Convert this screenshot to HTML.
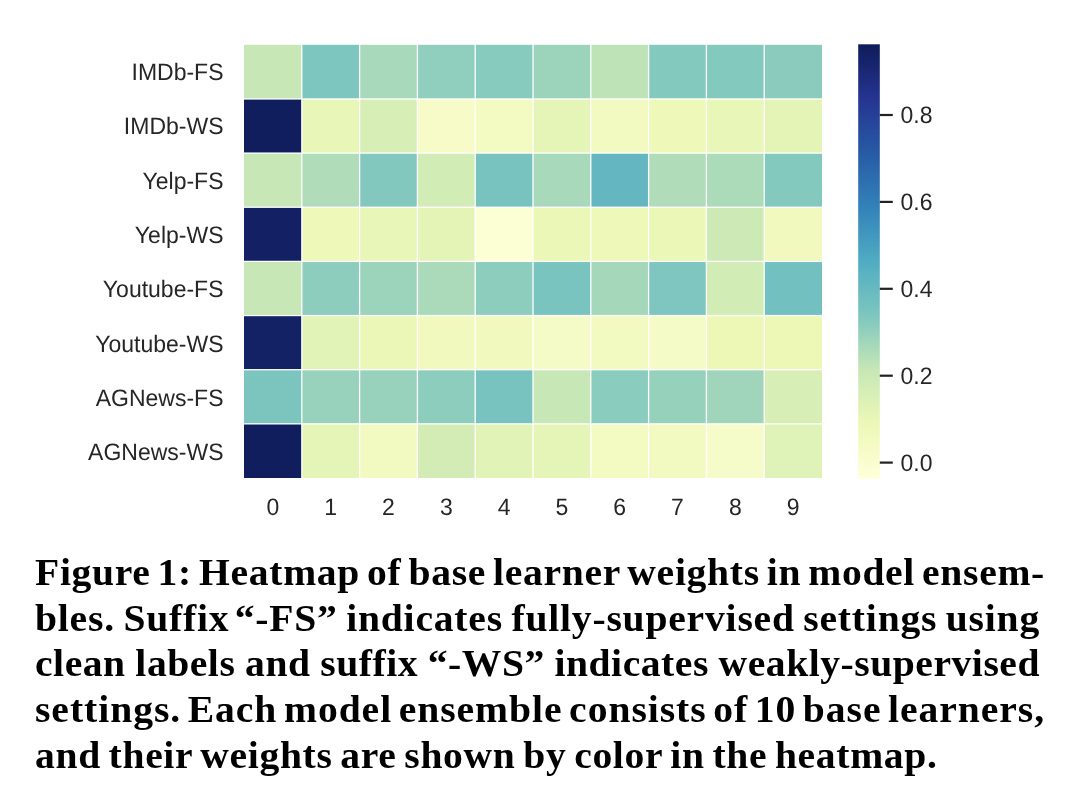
<!DOCTYPE html>
<html><head><meta charset="utf-8"><title>Heatmap figure</title><style>
html,body{margin:0;padding:0;background:#fff;}
body{width:1080px;height:812px;overflow:hidden;position:relative;}
svg{position:absolute;left:0;top:0;will-change:transform;}
.t{text-rendering:geometricPrecision;font-family:"Liberation Sans",sans-serif;font-size:23px;fill:#262626;}
.cl{will-change:transform;position:absolute;left:35px;font-family:"Liberation Serif",serif;font-weight:bold;font-size:37px;line-height:0;color:#000;white-space:nowrap;letter-spacing:1.35px;word-spacing:-4.8px;}

</style></head><body>
<svg width="1080" height="812" viewBox="0 0 1080 812">
<rect x="244.0" y="44.8" width="578.0" height="433.2" fill="#fff"/>
<rect x="244.00" y="44.80" width="57.15" height="53.50" fill="#c7e7b6"/>
<rect x="302.45" y="44.80" width="56.50" height="53.50" fill="#7dc5bf"/>
<rect x="360.25" y="44.80" width="56.50" height="53.50" fill="#a8d9ba"/>
<rect x="418.05" y="44.80" width="56.50" height="53.50" fill="#90cebd"/>
<rect x="475.85" y="44.80" width="56.50" height="53.50" fill="#87cabe"/>
<rect x="533.65" y="44.80" width="56.50" height="53.50" fill="#9bd3bb"/>
<rect x="591.45" y="44.80" width="56.50" height="53.50" fill="#bee3b7"/>
<rect x="649.25" y="44.80" width="56.50" height="53.50" fill="#84c9be"/>
<rect x="707.05" y="44.80" width="56.50" height="53.50" fill="#84c9be"/>
<rect x="764.85" y="44.80" width="57.15" height="53.50" fill="#8acbbe"/>
<rect x="244.00" y="99.60" width="57.15" height="52.85" fill="#111e5e"/>
<rect x="302.45" y="99.60" width="56.50" height="52.85" fill="#e8f6b7"/>
<rect x="360.25" y="99.60" width="56.50" height="52.85" fill="#d7eeb6"/>
<rect x="418.05" y="99.60" width="56.50" height="52.85" fill="#f6fbc7"/>
<rect x="475.85" y="99.60" width="56.50" height="52.85" fill="#f3fac2"/>
<rect x="533.65" y="99.60" width="56.50" height="52.85" fill="#e5f5b7"/>
<rect x="591.45" y="99.60" width="56.50" height="52.85" fill="#f2fac1"/>
<rect x="649.25" y="99.60" width="56.50" height="52.85" fill="#eef8b8"/>
<rect x="707.05" y="99.60" width="56.50" height="52.85" fill="#e8f6b7"/>
<rect x="764.85" y="99.60" width="57.15" height="52.85" fill="#e4f4b7"/>
<rect x="244.00" y="153.75" width="57.15" height="52.85" fill="#c7e7b6"/>
<rect x="302.45" y="153.75" width="56.50" height="52.85" fill="#b0dcb9"/>
<rect x="360.25" y="153.75" width="56.50" height="52.85" fill="#82c8be"/>
<rect x="418.05" y="153.75" width="56.50" height="52.85" fill="#d2ecb6"/>
<rect x="475.85" y="153.75" width="56.50" height="52.85" fill="#78c3bf"/>
<rect x="533.65" y="153.75" width="56.50" height="52.85" fill="#a8d9ba"/>
<rect x="591.45" y="153.75" width="56.50" height="52.85" fill="#64b7c1"/>
<rect x="649.25" y="153.75" width="56.50" height="52.85" fill="#b0dcb9"/>
<rect x="707.05" y="153.75" width="56.50" height="52.85" fill="#acdbb9"/>
<rect x="764.85" y="153.75" width="57.15" height="52.85" fill="#84c9be"/>
<rect x="244.00" y="207.90" width="57.15" height="52.85" fill="#132063"/>
<rect x="302.45" y="207.90" width="56.50" height="52.85" fill="#eef8b8"/>
<rect x="360.25" y="207.90" width="56.50" height="52.85" fill="#e8f6b7"/>
<rect x="418.05" y="207.90" width="56.50" height="52.85" fill="#e4f4b7"/>
<rect x="475.85" y="207.90" width="56.50" height="52.85" fill="#fcfed4"/>
<rect x="533.65" y="207.90" width="56.50" height="52.85" fill="#ebf7b7"/>
<rect x="591.45" y="207.90" width="56.50" height="52.85" fill="#eef8b8"/>
<rect x="649.25" y="207.90" width="56.50" height="52.85" fill="#ebf7b7"/>
<rect x="707.05" y="207.90" width="56.50" height="52.85" fill="#cdeab6"/>
<rect x="764.85" y="207.90" width="57.15" height="52.85" fill="#f1f9be"/>
<rect x="244.00" y="262.05" width="57.15" height="52.85" fill="#c7e7b6"/>
<rect x="302.45" y="262.05" width="56.50" height="52.85" fill="#8dcdbd"/>
<rect x="360.25" y="262.05" width="56.50" height="52.85" fill="#9bd3bb"/>
<rect x="418.05" y="262.05" width="56.50" height="52.85" fill="#aadaba"/>
<rect x="475.85" y="262.05" width="56.50" height="52.85" fill="#8dcdbd"/>
<rect x="533.65" y="262.05" width="56.50" height="52.85" fill="#7ac4bf"/>
<rect x="591.45" y="262.05" width="56.50" height="52.85" fill="#a5d8ba"/>
<rect x="649.25" y="262.05" width="56.50" height="52.85" fill="#7ec6bf"/>
<rect x="707.05" y="262.05" width="56.50" height="52.85" fill="#d2ecb6"/>
<rect x="764.85" y="262.05" width="57.15" height="52.85" fill="#73c0c0"/>
<rect x="244.00" y="316.20" width="57.15" height="52.85" fill="#132165"/>
<rect x="302.45" y="316.20" width="56.50" height="52.85" fill="#e1f3b7"/>
<rect x="360.25" y="316.20" width="56.50" height="52.85" fill="#ebf7b7"/>
<rect x="418.05" y="316.20" width="56.50" height="52.85" fill="#f1f9be"/>
<rect x="475.85" y="316.20" width="56.50" height="52.85" fill="#f1f9be"/>
<rect x="533.65" y="316.20" width="56.50" height="52.85" fill="#f5fbc6"/>
<rect x="591.45" y="316.20" width="56.50" height="52.85" fill="#f2fac1"/>
<rect x="649.25" y="316.20" width="56.50" height="52.85" fill="#f5fbc6"/>
<rect x="707.05" y="316.20" width="56.50" height="52.85" fill="#edf8b7"/>
<rect x="764.85" y="316.20" width="57.15" height="52.85" fill="#edf8b7"/>
<rect x="244.00" y="370.35" width="57.15" height="52.85" fill="#7cc5bf"/>
<rect x="302.45" y="370.35" width="56.50" height="52.85" fill="#98d2bc"/>
<rect x="360.25" y="370.35" width="56.50" height="52.85" fill="#98d2bc"/>
<rect x="418.05" y="370.35" width="56.50" height="52.85" fill="#8dcdbd"/>
<rect x="475.85" y="370.35" width="56.50" height="52.85" fill="#78c3bf"/>
<rect x="533.65" y="370.35" width="56.50" height="52.85" fill="#c7e7b6"/>
<rect x="591.45" y="370.35" width="56.50" height="52.85" fill="#8accbd"/>
<rect x="649.25" y="370.35" width="56.50" height="52.85" fill="#96d1bc"/>
<rect x="707.05" y="370.35" width="56.50" height="52.85" fill="#a0d5bb"/>
<rect x="764.85" y="370.35" width="57.15" height="52.85" fill="#d7eeb6"/>
<rect x="244.00" y="424.50" width="57.15" height="53.50" fill="#111e5e"/>
<rect x="302.45" y="424.50" width="56.50" height="53.50" fill="#e5f5b7"/>
<rect x="360.25" y="424.50" width="56.50" height="53.50" fill="#f2fac1"/>
<rect x="418.05" y="424.50" width="56.50" height="53.50" fill="#d3ecb6"/>
<rect x="475.85" y="424.50" width="56.50" height="53.50" fill="#e2f3b7"/>
<rect x="533.65" y="424.50" width="56.50" height="53.50" fill="#e5f5b7"/>
<rect x="591.45" y="424.50" width="56.50" height="53.50" fill="#f3fbc3"/>
<rect x="649.25" y="424.50" width="56.50" height="53.50" fill="#f2fac1"/>
<rect x="707.05" y="424.50" width="56.50" height="53.50" fill="#f6fcc9"/>
<rect x="764.85" y="424.50" width="57.15" height="53.50" fill="#dff2b7"/>
<defs><linearGradient id="cbg" x1="0" y1="0" x2="0" y2="1"><stop offset="0.0000" stop-color="#0f1c5a"/><stop offset="0.1250" stop-color="#253491"/><stop offset="0.2500" stop-color="#285aa5"/><stop offset="0.3750" stop-color="#3282b9"/><stop offset="0.5000" stop-color="#50acc3"/><stop offset="0.6250" stop-color="#7ec6bf"/><stop offset="0.7500" stop-color="#c7e7b6"/><stop offset="0.8750" stop-color="#edf8b7"/><stop offset="1.0000" stop-color="#ffffd9"/></linearGradient></defs>
<rect x="858.2" y="44.3" width="21.6" height="434.3" fill="url(#cbg)"/>
<rect x="879.80" y="113.90" width="13" height="2.2" fill="#222"/>
<text transform="translate(900.5 123.30) scale(1 1.035)" class="t">0.8</text>
<rect x="879.80" y="200.80" width="13" height="2.2" fill="#222"/>
<text transform="translate(900.5 210.20) scale(1 1.035)" class="t">0.6</text>
<rect x="879.80" y="287.70" width="13" height="2.2" fill="#222"/>
<text transform="translate(900.5 297.10) scale(1 1.035)" class="t">0.4</text>
<rect x="879.80" y="374.60" width="13" height="2.2" fill="#222"/>
<text transform="translate(900.5 384.00) scale(1 1.035)" class="t">0.2</text>
<rect x="879.80" y="461.50" width="13" height="2.2" fill="#222"/>
<text transform="translate(900.5 470.90) scale(1 1.035)" class="t">0.0</text>
<text transform="translate(223.5 80.00) scale(1 1.035)" class="t" text-anchor="end">IMDb-FS</text>
<text transform="translate(223.5 134.33) scale(1 1.035)" class="t" text-anchor="end">IMDb-WS</text>
<text transform="translate(223.5 188.66) scale(1 1.035)" class="t" text-anchor="end">Yelp-FS</text>
<text transform="translate(223.5 242.99) scale(1 1.035)" class="t" text-anchor="end">Yelp-WS</text>
<text transform="translate(223.5 297.32) scale(1 1.035)" class="t" text-anchor="end">Youtube-FS</text>
<text transform="translate(223.5 351.65) scale(1 1.035)" class="t" text-anchor="end">Youtube-WS</text>
<text transform="translate(223.5 405.98) scale(1 1.035)" class="t" text-anchor="end">AGNews-FS</text>
<text transform="translate(223.5 460.31) scale(1 1.035)" class="t" text-anchor="end">AGNews-WS</text>
<text transform="translate(272.90 515.2) scale(1 1.035)" class="t" text-anchor="middle">0</text>
<text transform="translate(330.70 515.2) scale(1 1.035)" class="t" text-anchor="middle">1</text>
<text transform="translate(388.50 515.2) scale(1 1.035)" class="t" text-anchor="middle">2</text>
<text transform="translate(446.30 515.2) scale(1 1.035)" class="t" text-anchor="middle">3</text>
<text transform="translate(504.10 515.2) scale(1 1.035)" class="t" text-anchor="middle">4</text>
<text transform="translate(561.90 515.2) scale(1 1.035)" class="t" text-anchor="middle">5</text>
<text transform="translate(619.70 515.2) scale(1 1.035)" class="t" text-anchor="middle">6</text>
<text transform="translate(677.50 515.2) scale(1 1.035)" class="t" text-anchor="middle">7</text>
<text transform="translate(735.30 515.2) scale(1 1.035)" class="t" text-anchor="middle">8</text>
<text transform="translate(793.10 515.2) scale(1 1.035)" class="t" text-anchor="middle">9</text>
</svg>
<div class="cl" style="top:572.80px;letter-spacing:0.65px;word-spacing:-4px;transform:scaleX(1.07);transform-origin:0 0;width:943.93px;text-align-last:justify">Figure 1: Heatmap of base learner weights in model ensem-</div>
<div class="cl" style="top:618.55px;letter-spacing:0.75px;word-spacing:-4px;transform:scaleX(1.07);transform-origin:0 0;width:939.25px;text-align-last:justify">bles. Suffix <span style="margin-left:-3px">“-FS”</span> indicates fully-supervised settings using</div>
<div class="cl" style="top:664.30px;letter-spacing:0.5px;word-spacing:-4px;transform:scaleX(1.07);transform-origin:0 0;width:939.25px;text-align-last:justify">clean labels and suffix “-WS” indicates weakly-supervised</div>
<div class="cl" style="top:710.05px;letter-spacing:0.9px;word-spacing:-4px;transform:scaleX(1.07);transform-origin:0 0;width:942.06px;text-align-last:justify">settings. Each model ensemble consists of 10 base learners,</div>
<div class="cl" style="top:755.80px;letter-spacing:0.62px;word-spacing:-2.6px;transform:scaleX(1.07);transform-origin:0 0;text-align-last:left">and their weights are shown by color in the heatmap.</div>
</body></html>
